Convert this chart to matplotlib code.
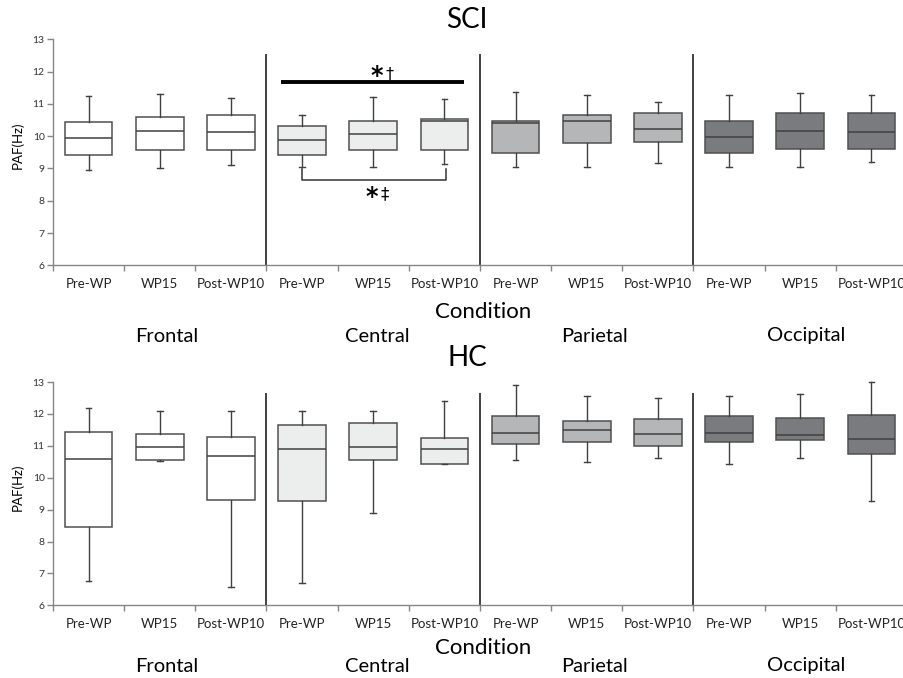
import matplotlib
matplotlib.use('Agg')
import matplotlib.pyplot as plt

plt.rcParams['font.family'] = ['Lato', 'DejaVu Sans']

# ---------------- data ----------------
regions = ['Frontal', 'Central', 'Parietal', 'Occipital']
conditions = ['Pre-WP', 'WP15', 'Post-WP10']
region_colors = ['#ffffff', '#eceeed', '#b4b6b8', '#7a7b7f']

# SCI panel (12 boxes: 4 regions x 3 conditions)
sci_whislo = [8.94, 9.01, 9.10, 9.03, 9.03, 9.15, 9.05, 9.05, 9.17, 9.05, 9.05, 9.19]
sci_q1     = [9.43, 9.56, 9.56, 9.43, 9.57, 9.57, 9.48, 9.78, 9.82, 9.48, 9.59, 9.59]
sci_med    = [9.94, 10.17, 10.12, 9.87, 10.06, 10.46, 10.40, 10.46, 10.22, 9.97, 10.16, 10.12]
sci_q3     = [10.45, 10.60, 10.64, 10.30, 10.46, 10.54, 10.46, 10.64, 10.71, 10.46, 10.72, 10.71]
sci_whishi = [11.23, 11.30, 11.17, 10.67, 11.22, 11.16, 11.37, 11.28, 11.06, 11.28, 11.33, 11.28]

# HC panel
hc_whislo = [6.75, 10.51, 6.56, 6.70, 8.88, 10.42, 10.55, 10.48, 10.61, 10.42, 10.61, 9.26]
hc_q1     = [8.46, 10.55, 9.30, 9.26, 10.55, 10.42, 11.06, 11.11, 10.98, 11.12, 11.17, 10.73]
hc_med    = [10.58, 10.96, 10.68, 10.89, 10.95, 10.91, 11.40, 11.49, 11.36, 11.40, 11.33, 11.20]
hc_q3     = [11.43, 11.38, 11.29, 11.66, 11.71, 11.24, 11.92, 11.77, 11.84, 11.94, 11.88, 11.96]
hc_whishi = [12.18, 12.10, 12.10, 12.10, 12.08, 12.40, 12.90, 12.55, 12.50, 12.55, 12.63, 13.00]

# significance annotations (SCI panel)
sig_bar_y = 11.68
sig_bracket_y = 8.65
sig_bracket_top = 8.98

W, H = 904, 678
fig = plt.figure(figsize=(W / 100, H / 100), dpi=100)


def fx(px):
    return px / W


def fy(py):
    return 1 - py / H


def make_ax(top_px, bot_px):
    left, right = 53, 907
    return fig.add_axes([fx(left), fy(bot_px), (right - left) / W, (bot_px - top_px) / H])


def draw_panel(ax, lo, q1, med, q3, hi, sep_top):
    stats = [dict(whislo=a, q1=b, med=c, q3=d, whishi=e, fliers=[])
             for a, b, c, d, e in zip(lo, q1, med, q3, hi)]
    n = len(stats)
    bp = ax.bxp(stats, positions=list(range(n)), widths=0.67, patch_artist=True,
                showfliers=False, capwidths=0.08,
                boxprops=dict(edgecolor='#505050', linewidth=1.1),
                medianprops=dict(color='#404040', linewidth=1.1),
                whiskerprops=dict(color='#404040', linewidth=1.0),
                capprops=dict(color='#404040', linewidth=1.0))
    colors = [c for c in region_colors for _ in conditions]
    for patch, col in zip(bp['boxes'], colors):
        patch.set_facecolor(col)
    for line in bp['caps'] + bp['whiskers']:
        line.set_clip_on(False)

    ax.set_xlim(-0.5, n - 0.5)
    ax.set_ylim(6, 13)
    ax.vlines([2.5, 5.5, 8.5], 6, sep_top, color='#404040', linewidth=1.4)

    ax.set_xticks([i - 0.5 for i in range(n + 1)])
    ax.set_xticklabels([])
    ax.set_xticks(list(range(n)), minor=True)
    ax.set_xticklabels(conditions * len(regions), minor=True, fontsize=9.5, color='#222222')
    ax.tick_params(axis='x', which='major', length=4, width=1, color='#868686', direction='out')
    ax.tick_params(axis='x', which='minor', length=0, pad=9)

    ax.set_yticks(range(6, 14))
    ax.tick_params(axis='y', length=4, width=1, color='#868686', labelsize=7.5,
                   labelcolor='#333333', pad=2)
    for s in ['top', 'right']:
        ax.spines[s].set_visible(False)
    for s in ['left', 'bottom']:
        ax.spines[s].set_color('#868686')
        ax.spines[s].set_linewidth(1.0)


ax1 = make_ax(39.3, 265.3)
draw_panel(ax1, sci_whislo, sci_q1, sci_med, sci_q3, sci_whishi, 12.55)
ax2 = make_ax(382.0, 605.3)
draw_panel(ax2, hc_whislo, hc_q1, hc_med, hc_q3, hc_whishi, 12.65)

# significance markers on SCI panel
ax1.plot([2.70, 5.27], [sig_bar_y, sig_bar_y], color='black', linewidth=2.8, solid_capstyle='butt')
ax1.plot([3.0, 3.0, 5.02, 5.02],
         [sig_bracket_top, sig_bracket_y, sig_bracket_y, sig_bracket_top],
         color='#333333', linewidth=1.1)
sym = ['DejaVu Sans']
fig.text(fx(377), fy(83), '*', ha='center', va='baseline', fontsize=17,
         fontweight='bold', family=sym)
fig.text(fx(390), fy(79), '†', ha='center', va='baseline', fontsize=11.5, family=sym)
fig.text(fx(372), fy(204), '*', ha='center', va='baseline', fontsize=17,
         fontweight='bold', family=sym)
fig.text(fx(385), fy(199), '‡', ha='center', va='baseline', fontsize=12, family=sym)

# titles and labels
fig.text(fx(467), fy(28.5), 'SCI', ha='center', va='baseline', fontsize=20)
fig.text(fx(467), fy(366), 'HC', ha='center', va='baseline', fontsize=20)
fig.text(fx(483), fy(317.5), 'Condition', ha='center', va='baseline', fontsize=16)
fig.text(fx(483), fy(654.5), 'Condition', ha='center', va='baseline', fontsize=16)

group_x = [167, 377, 595, 806]
for name, gx in zip(regions, group_x):
    fig.text(fx(gx), fy(341.5), name, ha='center', va='baseline', fontsize=14.5)
    fig.text(fx(gx), fy(671.5), name, ha='center', va='baseline', fontsize=14.5)

fig.text(fx(17), fy(145), 'PAF(Hz)', ha='center', va='center', rotation=90, fontsize=9.5)
fig.text(fx(17), fy(487), 'PAF(Hz)', ha='center', va='center', rotation=90, fontsize=9.5)

fig.savefig('out.png', dpi=100)
